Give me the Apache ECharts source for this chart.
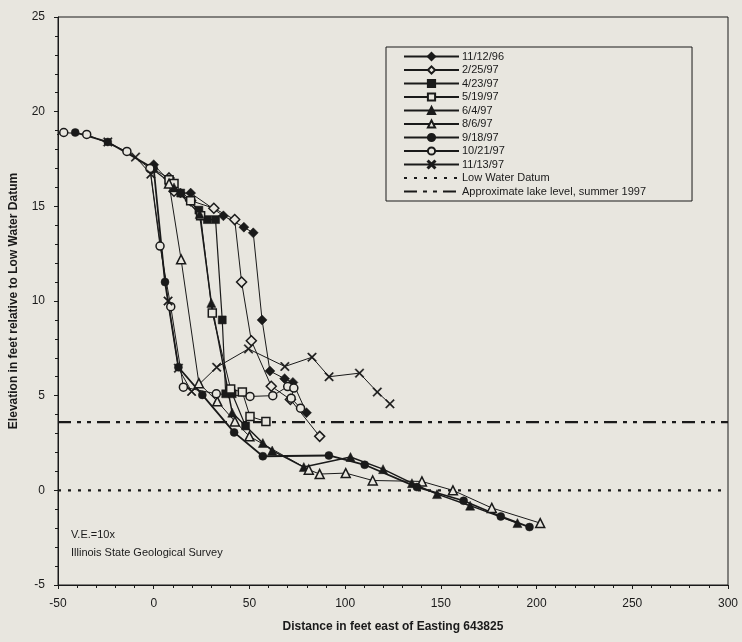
<!DOCTYPE html>
<html>
<head>
<meta charset="utf-8">
<script src="https://cdn.jsdelivr.net/npm/echarts@6/dist/echarts.min.js"></script>
<style>
  html, body { margin: 0; padding: 0; background: #e8e6df; }
  #chart { width: 742px; height: 642px; }
</style>
</head>
<body>
<div id="chart"></div>
<script>
// Beach profile surveys: distance east of Easting 643825 (ft) vs elevation (ft above Low Water Datum)
const surveyDates = ['11/12/96', '2/25/97', '4/23/97', '5/19/97', '6/4/97', '8/6/97', '9/18/97', '10/21/97', '11/13/97'];

const p_961112 = [[0,17.2],[14,15.7],[19.3,15.7],[36.4,14.5],[47.1,13.9],[52,13.6],[56.6,9.0],[60.7,6.3],[68.4,5.9],[72.7,5.7],[79.8,4.1]];
const p_970225 = [[-1,17.0],[8,16.5],[10.6,15.8],[19.3,15.3],[31.4,14.9],[42.3,14.3],[45.9,11.0],[51,7.9],[61.4,5.5],[71.4,4.8],[86.7,2.85]];
const p_970423 = [[-1,17.0],[8,16.3],[14.1,15.7],[23.6,14.8],[28,14.3],[32.3,14.3],[35.8,9.0],[37.6,5.1],[41,5.1],[48,3.4]];
const p_970519 = [[8,16.4],[10.6,16.2],[19.3,15.3],[24.5,14.5],[30.6,9.36],[40.2,5.35],[46.3,5.19],[50.3,3.9],[58.6,3.64]];
const p_970604 = [[10.6,16.0],[24,14.6],[30.1,9.9],[41,4.1],[57,2.5],[61.9,2.1],[78.4,1.23],[102.8,1.76],[119.8,1.12],[134.9,0.38],[148,-0.2],[165.3,-0.81],[190,-1.73]];
const p_970806 = [[8,16.2],[14.3,12.2],[23.6,5.66],[33.2,4.7],[42.4,3.64],[50,2.85],[81,1.09],[86.7,0.86],[100.3,0.91],[114.4,0.52],[140.1,0.47],[156.3,0.0],[176.6,-0.93],[201.9,-1.73]];
const p_970918 = [[-41,18.9],[-24,18.4],[0,17.0],[5.9,11.0],[12.9,6.5],[25.4,5.04],[42,3.06],[57,1.8],[91.5,1.84],[110.2,1.35],[137.5,0.17],[161.9,-0.55],[181.3,-1.38],[196.3,-1.94]];
const p_971021 = [[-56,18.6],[-47,18.9],[-35,18.8],[-14,17.9],[-2,17.0],[3.3,12.9],[8.9,9.7],[15.5,5.45],[32.7,5.1],[50.3,4.96],[62.2,5.0],[70,5.48],[73.2,5.4],[71.8,4.87],[76.7,4.34]];
const p_971113 = [[-24,18.4],[-9.5,17.6],[-1.5,16.7],[7.5,10.0],[12.9,6.45],[19.8,5.22],[32.9,6.5],[49.5,7.47],[68.5,6.54],[82.7,7.03],[91.6,6.0],[107.5,6.19],[116.8,5.19],[123.4,4.57]];

const lowWaterDatum = 0;
const lakeLevel1997 = 3.6;
const xRange = [-50, 300];

const BG = '#e8e6df';
const INK = '#1a1a1a';
const FONT = "'Liberation Sans', Arial, sans-serif";

const crossPath = 'path://M0,1L1,0L5,4L9,0L10,1L6,5L10,9L9,10L5,6L1,10L0,9L4,5Z';

function profile(name, data, symbol, filled, size, width) {
  return {
    name: name,
    type: 'line',
    data: data,
    symbol: symbol,
    symbolSize: size,
    showSymbol: true,
    lineStyle: { color: INK, width: width },
    itemStyle: filled
      ? { color: INK, borderColor: INK, borderWidth: 0.5 }
      : { color: BG, borderColor: INK, borderWidth: 1.5 },
    emphasis: { disabled: true },
    z: 3
  };
}

function levelLine(name, y, dash) {
  return {
    name: name,
    type: 'line',
    data: [[xRange[0], y], [xRange[1], y]],
    symbol: 'none',
    lineStyle: { color: INK, width: 2.4, type: dash },
    itemStyle: { color: 'rgba(0,0,0,0)', borderWidth: 0 },
    emphasis: { disabled: true },
    z: 2
  };
}

const series = [
  profile(surveyDates[0], p_961112, 'diamond', true, 10, 1),
  profile(surveyDates[1], p_970225, 'diamond', false, 10, 1),
  profile(surveyDates[2], p_970423, 'rect', true, 8, 1.2),
  profile(surveyDates[3], p_970519, 'rect', false, 8, 1),
  profile(surveyDates[4], p_970604, 'triangle', true, 9, 1.5),
  profile(surveyDates[5], p_970806, 'triangle', false, 9, 1),
  profile(surveyDates[6], p_970918, 'circle', true, 8, 1.8),
  profile(surveyDates[7], p_971021, 'circle', false, 8, 1),
  profile(surveyDates[8], p_971113, crossPath, true, 9, 1),
  levelLine('Low Water Datum', lowWaterDatum, [3, 7]),
  levelLine('Approximate lake level, summer 1997', lakeLevel1997, [13, 6, 4, 6, 4, 6])
];

const chart = echarts.init(document.getElementById('chart'), null, { renderer: 'canvas' });
chart.setOption({
  backgroundColor: BG,
  animation: false,
  textStyle: { fontFamily: FONT },
  grid: {
    left: 57, right: 14, top: 17, bottom: 57,
    show: true, borderColor: INK, borderWidth: 1, backgroundColor: 'transparent'
  },
  xAxis: {
    type: 'value',
    min: xRange[0], max: xRange[1], interval: 50,
    name: 'Distance in feet east of Easting 643825',
    nameLocation: 'middle', nameGap: 36,
    nameTextStyle: { fontFamily: FONT, fontSize: 12, fontWeight: 'bold', color: INK },
    axisLine: { show: true, onZero: false, lineStyle: { color: INK, width: 1 } },
    axisTick: { show: true, inside: false, length: 4, lineStyle: { color: INK } },
    minorTick: { show: true, splitNumber: 5, length: 3, lineStyle: { color: INK } },
    axisLabel: { fontFamily: FONT, fontSize: 12, color: INK, margin: 13 },
    splitLine: { show: false }
  },
  yAxis: {
    type: 'value',
    min: -5, max: 25, interval: 5,
    name: 'Elevation in feet relative to Low Water Datum',
    nameLocation: 'middle', nameGap: 38,
    nameTextStyle: { fontFamily: FONT, fontSize: 12, fontWeight: 'bold', color: INK },
    axisLine: { show: true, onZero: false, lineStyle: { color: INK, width: 1 } },
    axisTick: { show: true, inside: false, length: 4, lineStyle: { color: INK } },
    minorTick: { show: true, splitNumber: 5, length: 3, lineStyle: { color: INK } },
    axisLabel: { fontFamily: FONT, fontSize: 12, color: INK, margin: 13 },
    splitLine: { show: false }
  },
  legend: {
    orient: 'vertical',
    left: 386, top: 47,
    backgroundColor: BG,
    borderColor: INK, borderWidth: 1,
    padding: [4, 46, 4, 17],
    itemWidth: 55, itemHeight: 9, itemGap: 2.5,
    textStyle: { fontFamily: FONT, fontSize: 11, color: INK, lineHeight: 11, padding: [0, 0, 0, -2] },
    selectedMode: false,
    data: series.map(s => s.name)
  },
  graphic: [
    { type: 'text', left: 71, top: 529, style: { text: 'V.E.=10x', font: '11px ' + FONT, fill: INK } },
    { type: 'text', left: 71, top: 547, style: { text: 'Illinois State Geological Survey', font: '11px ' + FONT, fill: INK } }
  ],
  series: series
});
</script>
</body>
</html>
